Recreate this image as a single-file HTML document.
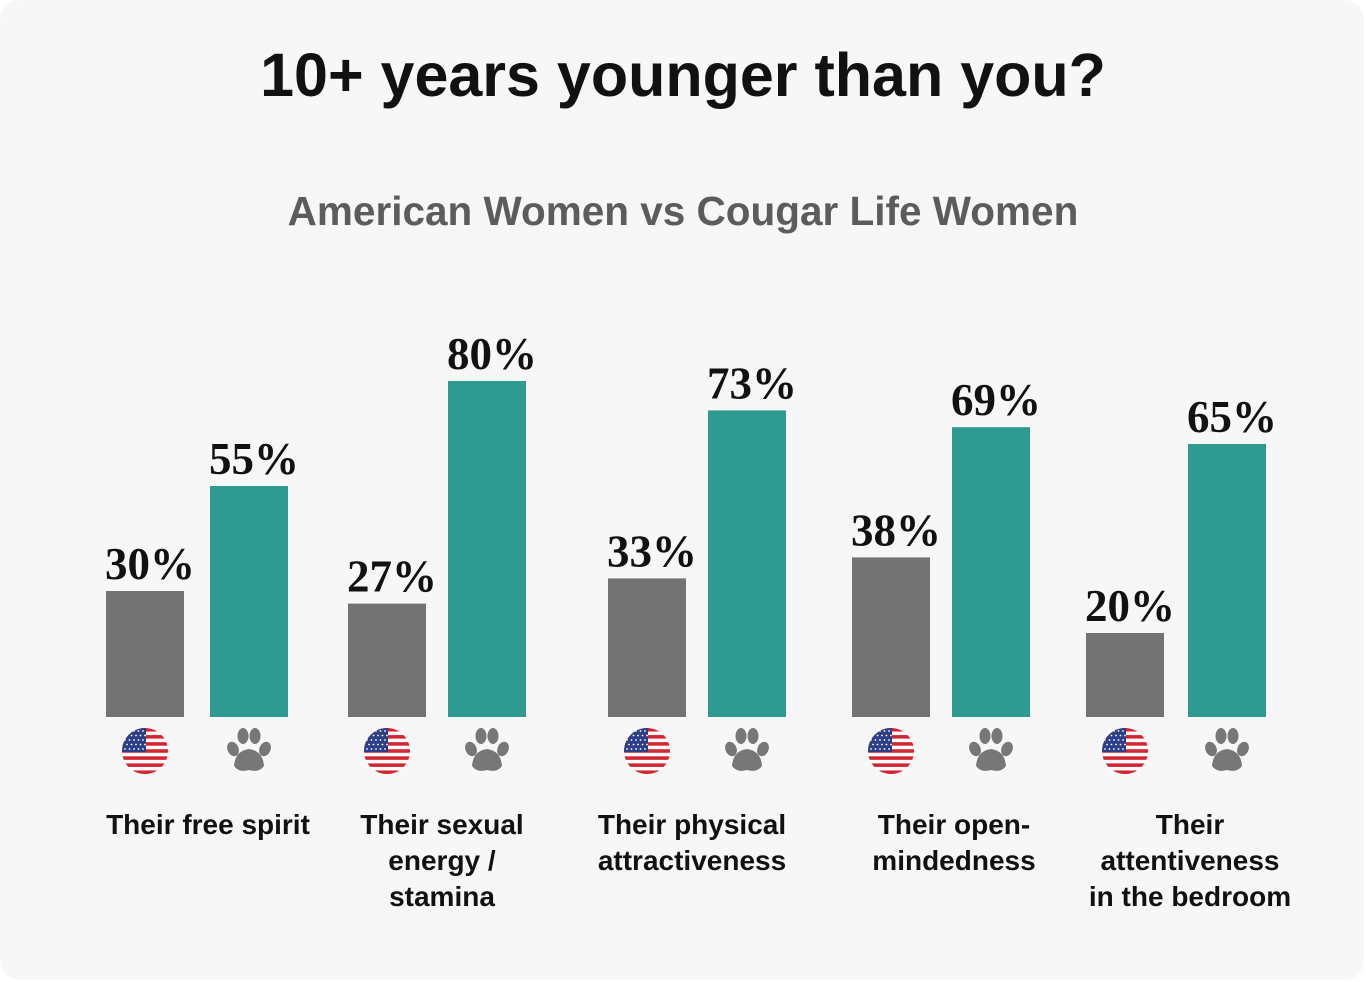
<!DOCTYPE html>
<html><head><meta charset="utf-8"><style>
html,body{margin:0;padding:0;background:#fff;}
#card{position:absolute;left:0;top:0;width:1364px;height:980px;background:#f7f7f7;border-radius:20px;font-family:"Liberation Sans",sans-serif;}
#title{position:absolute;left:0;width:1366px;top:40px;text-align:center;font-size:61px;font-weight:bold;color:#111;}
#subtitle{position:absolute;left:0;width:1366px;top:188px;text-align:center;font-size:40.5px;font-weight:bold;color:#5c5c5c;}
svg{position:absolute;left:0;top:0;}
</style></head><body>
<div id="card">
<div id="title">10+ years younger than you?</div>
<div id="subtitle">American Women vs Cougar Life Women</div>
<svg id="chart" width="1366" height="982"></svg>
</div>
<script>
const categories=[["Their free spirit"],["Their sexual","energy /","stamina"],["Their physical","attractiveness"],["Their open-","mindedness"],["Their","attentiveness","in the bedroom"]];
const americanValues=[30,27,33,38,20];
const cougarValues=[55,80,73,69,65];
const groupLeft=[106,348,608,852,1086];
const groupGap=[104,100,100,100,102];
const labelShift=[11,5,-5,13,14];
const baseY=717, barW=78, pxPerUnit=4.2;
const NS="http://www.w3.org/2000/svg";
const svg=document.getElementById('chart');
function y(v){return baseY-v*pxPerUnit;}
function mk(t,a){const e=document.createElementNS(NS,t);for(const k in a)e.setAttribute(k,a[k]);return e;}
function label(x,v){
  const t=mk('text',{x:x+5,y:y(v)-12,'text-anchor':'middle','font-family':'"Liberation Serif",serif','font-weight':'bold','font-size':'45',fill:'#111'});
  t.textContent=v+'%';
  
  
  svg.appendChild(t);
}
function flag(cx,cy){
  const g=mk('g',{});
  
  
  const id='c'+cx;
  const cp=mk('clipPath',{id:id});cp.appendChild(mk('circle',{cx:cx,cy:cy,r:23}));g.appendChild(cp);
  const inner=mk('g',{'clip-path':'url(#'+id+')'});
  inner.appendChild(mk('rect',{x:cx-23,y:cy-23,width:46,height:46,fill:'#fff'}));
  for(let i=0;i<7;i++)inner.appendChild(mk('rect',{x:cx-23,y:cy-23+i*46/6.5,width:46,height:46/13,fill:'#d3242f'}));
  inner.appendChild(mk('rect',{x:cx-23,y:cy-23,width:24,height:24,fill:'#2c3e87'}));
  for(let r=0;r<5;r++)for(let c=0;c<5;c++)inner.appendChild(mk('circle',{cx:cx-20+c*4.5+(r%2)*2,cy:cy-20+r*4.5,r:0.9,fill:'#fff'}));
  g.appendChild(inner);svg.appendChild(g);
}
function paw(cx,cy){
  const g=mk('g',{fill:'#777'});
  
  
  g.appendChild(mk('ellipse',{cx:cx-16,cy:cy-1,rx:5.5,ry:7.5,transform:'rotate(-25 '+(cx-16)+' '+(cy-1)+')'}));
  g.appendChild(mk('ellipse',{cx:cx-6,cy:cy-14,rx:5.5,ry:8}));
  g.appendChild(mk('ellipse',{cx:cx+6,cy:cy-14,rx:5.5,ry:8}));
  g.appendChild(mk('ellipse',{cx:cx+16,cy:cy-1,rx:5.5,ry:7.5,transform:'rotate(25 '+(cx+16)+' '+(cy-1)+')'}));
  g.appendChild(mk('path',{d:`M${cx-15} ${cy+16} Q${cx-14} ${cy+1} ${cx} ${cy-1} Q${cx+14} ${cy+1} ${cx+15} ${cy+16} Q${cx+10} ${cy+23} ${cx} ${cy+20} Q${cx-10} ${cy+23} ${cx-15} ${cy+16} Z`}));
  svg.appendChild(g);
}
categories.forEach((cat,i)=>{
  const gx=groupLeft[i], tx=gx+groupGap[i];
  const a=mk('rect',{x:gx,y:y(americanValues[i]),width:barW,height:americanValues[i]*pxPerUnit,fill:'#737373'});
  
  
  svg.appendChild(a);
  const b=mk('rect',{x:tx,y:y(cougarValues[i]),width:barW,height:cougarValues[i]*pxPerUnit,fill:'#2f9a90'});
  
  
  svg.appendChild(b);
  label(gx+barW/2,americanValues[i]);
  label(tx+barW/2,cougarValues[i]);
  flag(gx+barW/2,751);
  paw(tx+barW/2,750);
  const cx=(gx+tx+barW)/2+labelShift[i];
  const t=mk('text',{x:cx,'text-anchor':'middle','font-size':'28','font-weight':'bold',fill:'#111','font-family':'"Liberation Sans",sans-serif'});
  
  
  cat.forEach((ln,j)=>{const s=mk('tspan',{x:cx,y:834+j*36});s.textContent=ln;t.appendChild(s);});
  svg.appendChild(t);
});
</script>
</body></html>
